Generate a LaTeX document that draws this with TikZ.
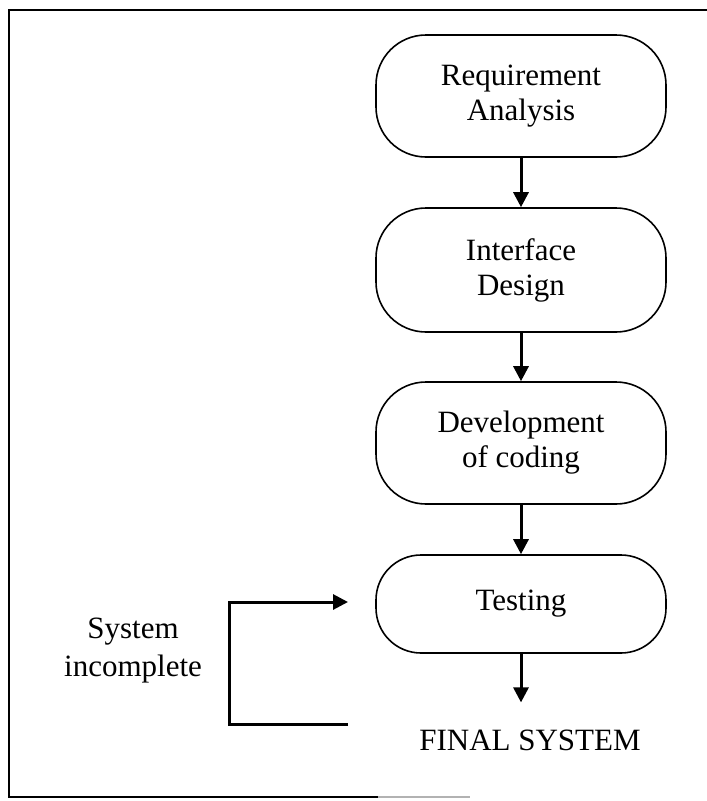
\documentclass[tikz,border=0pt]{standalone}
\usepackage{fontspec}
\setmainfont{Liberation Serif}
\usetikzlibrary{arrows.meta}
\begin{document}
\begin{tikzpicture}[x=1pt,y=-1pt,
  stage/.style={draw, line width=1.6pt, rounded corners=50pt, minimum width=290pt, minimum height=122pt, align=center, inner sep=0pt, font=\fontsize{31}{35}\selectfont},
  lbl/.style={align=center, inner sep=0pt, font=\fontsize{31}{38}\selectfont},
  arr/.style={line width=3pt, -{Triangle[length=15pt,width=15pt]}},
  frame/.style={line width=2pt}]
\useasboundingbox (0,0) rectangle (707,801);
\draw[frame] (707,10) -- (9,10) -- (9,797) -- (378,797);
\draw[line width=1.5pt, gray!60] (378,797) -- (470,797);
\node[stage] (req) at (521,96) {Requirement\\Analysis};
\node[stage, minimum height=124pt] (intf) at (521,270) {Interface\\Design};
\node[stage] (dev) at (521,443) {Development\\of coding};
\node[stage, minimum height=98pt, rounded corners=45pt] (test) at (521,604) {Testing};
\node[lbl] (final) at (530,740) {FINAL SYSTEM};
\node[lbl] (inc) at (133,651) {System\\incomplete};
\draw[arr] (req.south) -- (intf.north);
\draw[arr] (intf.south) -- (dev.north);
\draw[arr] (dev.south) -- (test.north);
\draw[arr, shorten >=27pt] (test.south) -- (test.south |- final.north);
\coordinate (fbs) at (348,724);
\coordinate (fbt) at (348,602);
\draw[arr] (fbs) -- (229,724) -- (229,602) -- (fbt);
\end{tikzpicture}
\end{document}
